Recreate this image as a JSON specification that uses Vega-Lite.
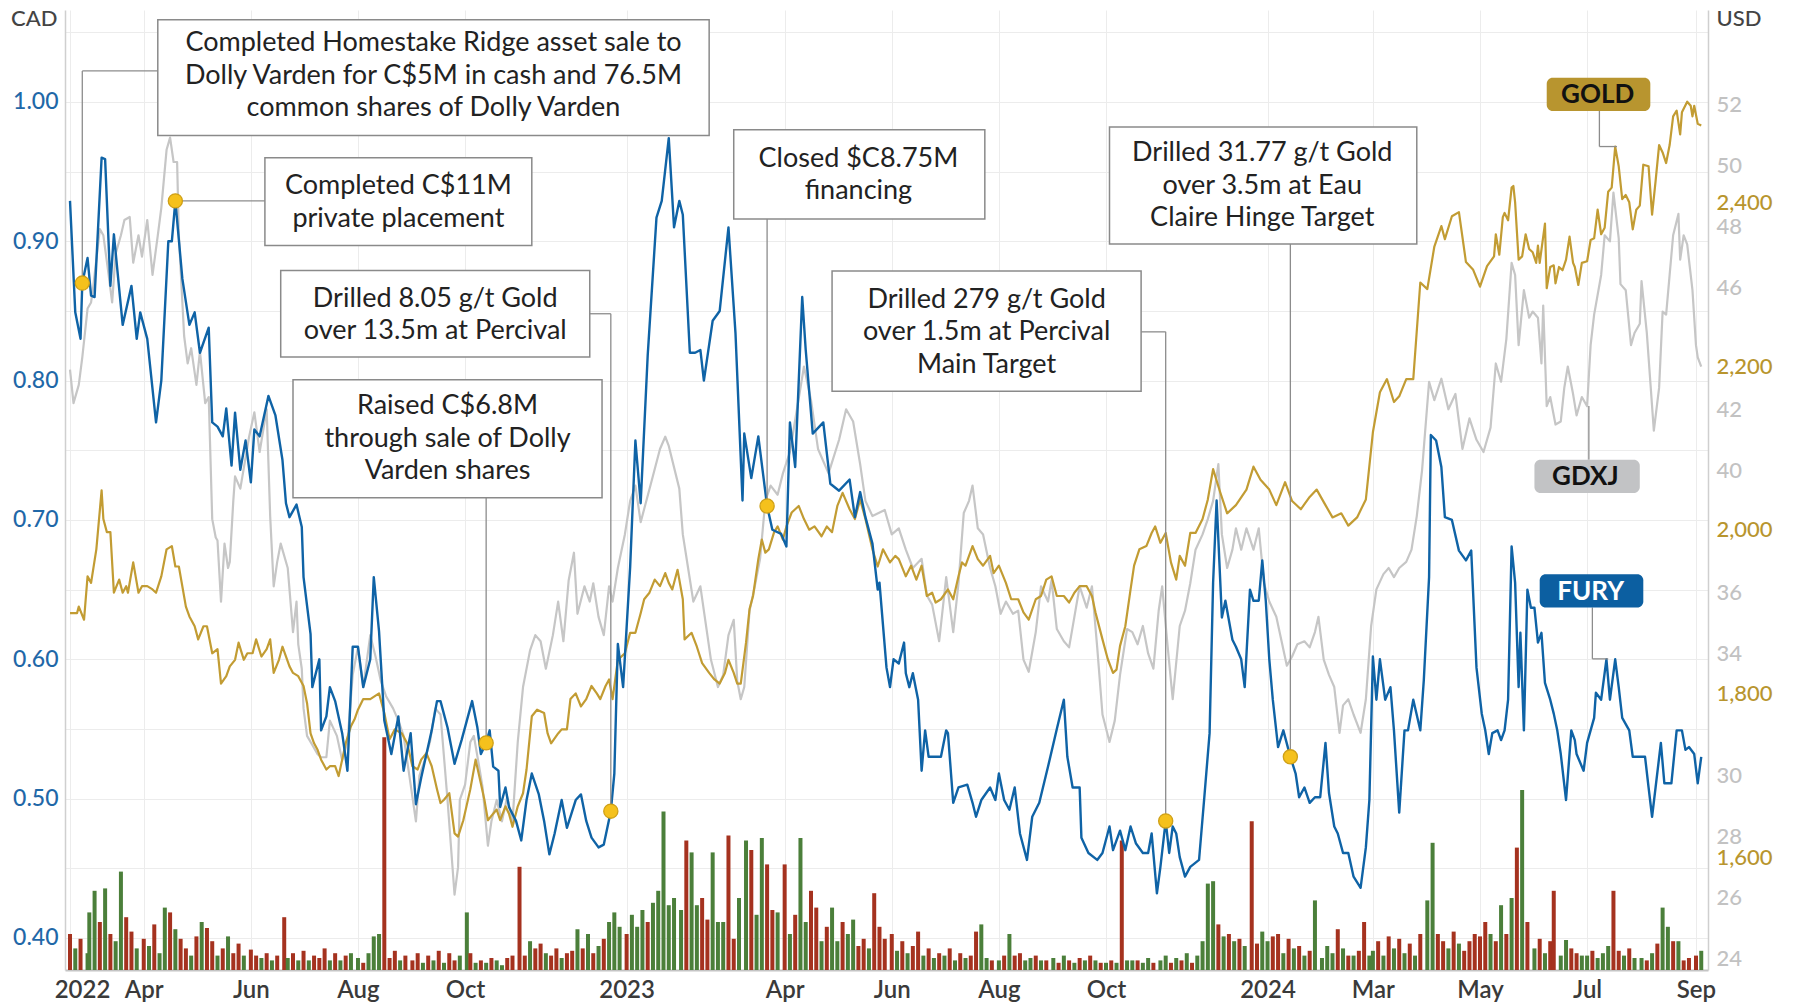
{
"$schema": "https://vega.github.io/schema/vega-lite/v6.json",
"width": 1643, "height": 960,
"autosize": {"type": "none"},
"padding": {"left": 65, "top": 10, "right": 85, "bottom": 34},
"background": "white",
"config": {"view": {"stroke": null}, "font": "Lato"},
"datasets": {
"fury": [
{"date":"2022-02-18","p":0.929},{"date":"2022-02-21","p":0.849},{"date":"2022-02-24","p":0.830},{"date":"2022-02-25","p":0.870},{"date":"2022-02-28","p":0.888},{"date":"2022-03-02","p":0.861},{"date":"2022-03-04","p":0.860},{"date":"2022-03-08","p":0.960},{"date":"2022-03-10","p":0.959},{"date":"2022-03-13","p":0.868},{"date":"2022-03-15","p":0.905},{"date":"2022-03-20","p":0.840},{"date":"2022-03-25","p":0.868},{"date":"2022-03-28","p":0.830},{"date":"2022-03-30","p":0.849},{"date":"2022-04-03","p":0.830},{"date":"2022-04-08","p":0.770},{"date":"2022-04-11","p":0.800},{"date":"2022-04-15","p":0.900},{"date":"2022-04-17","p":0.900},{"date":"2022-04-19","p":0.929},{"date":"2022-04-23","p":0.873},{"date":"2022-04-27","p":0.840},{"date":"2022-04-30","p":0.849},{"date":"2022-05-03","p":0.820},{"date":"2022-05-08","p":0.838},{"date":"2022-05-10","p":0.770},{"date":"2022-05-13","p":0.767},{"date":"2022-05-16","p":0.760},{"date":"2022-05-18","p":0.780},{"date":"2022-05-21","p":0.739},{"date":"2022-05-23","p":0.777},{"date":"2022-05-26","p":0.736},{"date":"2022-05-29","p":0.757},{"date":"2022-06-01","p":0.727},{"date":"2022-06-03","p":0.765},{"date":"2022-06-06","p":0.760},{"date":"2022-06-11","p":0.789},{"date":"2022-06-15","p":0.775},{"date":"2022-06-19","p":0.743},{"date":"2022-06-21","p":0.712},{"date":"2022-06-23","p":0.702},{"date":"2022-06-27","p":0.711},{"date":"2022-06-30","p":0.695},{"date":"2022-07-01","p":0.659},{"date":"2022-07-05","p":0.618},{"date":"2022-07-06","p":0.580},{"date":"2022-07-10","p":0.600},{"date":"2022-07-11","p":0.549},{"date":"2022-07-14","p":0.559},{"date":"2022-07-16","p":0.580},{"date":"2022-07-19","p":0.570},{"date":"2022-07-23","p":0.547},{"date":"2022-07-26","p":0.520},{"date":"2022-07-29","p":0.609},{"date":"2022-08-01","p":0.609},{"date":"2022-08-04","p":0.580},{"date":"2022-08-08","p":0.600},{"date":"2022-08-10","p":0.659},{"date":"2022-08-13","p":0.620},{"date":"2022-08-16","p":0.556},{"date":"2022-08-20","p":0.532},{"date":"2022-08-24","p":0.559},{"date":"2022-08-27","p":0.520},{"date":"2022-08-31","p":0.547},{"date":"2022-09-03","p":0.496},{"date":"2022-09-06","p":0.515},{"date":"2022-09-09","p":0.532},{"date":"2022-09-12","p":0.549},{"date":"2022-09-15","p":0.570},{"date":"2022-09-17","p":0.570},{"date":"2022-09-21","p":0.551},{"date":"2022-09-25","p":0.525},{"date":"2022-09-29","p":0.542},{"date":"2022-10-02","p":0.556},{"date":"2022-10-05","p":0.570},{"date":"2022-10-08","p":0.551},{"date":"2022-10-10","p":0.532},{"date":"2022-10-13","p":0.540},{"date":"2022-10-15","p":0.549},{"date":"2022-10-17","p":0.523},{"date":"2022-10-20","p":0.520},{"date":"2022-10-21","p":0.494},{"date":"2022-10-24","p":0.508},{"date":"2022-10-26","p":0.494},{"date":"2022-10-30","p":0.484},{"date":"2022-11-02","p":0.470},{"date":"2022-11-05","p":0.499},{"date":"2022-11-08","p":0.518},{"date":"2022-11-12","p":0.503},{"date":"2022-11-15","p":0.484},{"date":"2022-11-18","p":0.460},{"date":"2022-11-21","p":0.475},{"date":"2022-11-25","p":0.499},{"date":"2022-11-28","p":0.479},{"date":"2022-12-03","p":0.499},{"date":"2022-12-06","p":0.503},{"date":"2022-12-09","p":0.484},{"date":"2022-12-12","p":0.472},{"date":"2022-12-16","p":0.465},{"date":"2022-12-19","p":0.467},{"date":"2022-12-23","p":0.491},{"date":"2022-12-25","p":0.518},{"date":"2022-12-27","p":0.611},{"date":"2022-12-30","p":0.580},
{"date":"2023-01-03","p":0.666},{"date":"2023-01-06","p":0.757},{"date":"2023-01-09","p":0.712},{"date":"2023-01-13","p":0.818},{"date":"2023-01-18","p":0.917},{"date":"2023-01-21","p":0.929},{"date":"2023-01-25","p":0.974},{"date":"2023-01-28","p":0.910},{"date":"2023-01-31","p":0.929},{"date":"2023-02-02","p":0.919},{"date":"2023-02-06","p":0.820},{"date":"2023-02-09","p":0.820},{"date":"2023-02-12","p":0.822},{"date":"2023-02-14","p":0.800},{"date":"2023-02-19","p":0.843},{"date":"2023-02-23","p":0.850},{"date":"2023-02-28","p":0.910},{"date":"2023-03-04","p":0.834},{"date":"2023-03-08","p":0.714},{"date":"2023-03-09","p":0.762},{"date":"2023-03-13","p":0.730},{"date":"2023-03-17","p":0.760},{"date":"2023-03-22","p":0.710},{"date":"2023-03-25","p":0.693},{"date":"2023-03-30","p":0.690},{"date":"2023-04-02","p":0.681},{"date":"2023-04-04","p":0.770},{"date":"2023-04-07","p":0.738},{"date":"2023-04-11","p":0.860},{"date":"2023-04-13","p":0.822},{"date":"2023-04-17","p":0.762},{"date":"2023-04-23","p":0.770},{"date":"2023-04-27","p":0.726},{"date":"2023-05-02","p":0.721},{"date":"2023-05-08","p":0.729},{"date":"2023-05-11","p":0.702},{"date":"2023-05-14","p":0.720},{"date":"2023-05-17","p":0.702},{"date":"2023-05-21","p":0.683},{"date":"2023-05-24","p":0.650},{"date":"2023-05-25","p":0.655},{"date":"2023-05-29","p":0.594},{"date":"2023-05-31","p":0.580},{"date":"2023-06-02","p":0.600},{"date":"2023-06-05","p":0.597},{"date":"2023-06-08","p":0.612},{"date":"2023-06-09","p":0.590},{"date":"2023-06-11","p":0.580},{"date":"2023-06-13","p":0.590},{"date":"2023-06-16","p":0.571},{"date":"2023-06-18","p":0.520},{"date":"2023-06-20","p":0.549},{"date":"2023-06-22","p":0.530},{"date":"2023-06-29","p":0.530},{"date":"2023-07-02","p":0.549},{"date":"2023-07-03","p":0.547},{"date":"2023-07-06","p":0.497},{"date":"2023-07-09","p":0.508},{"date":"2023-07-14","p":0.510},{"date":"2023-07-17","p":0.497},{"date":"2023-07-19","p":0.487},{"date":"2023-07-22","p":0.499},{"date":"2023-07-27","p":0.508},{"date":"2023-07-30","p":0.499},{"date":"2023-08-01","p":0.518},{"date":"2023-08-04","p":0.499},{"date":"2023-08-07","p":0.492},{"date":"2023-08-10","p":0.508},{"date":"2023-08-13","p":0.475},{"date":"2023-08-17","p":0.456},{"date":"2023-08-20","p":0.487},{"date":"2023-08-24","p":0.497},{"date":"2023-08-29","p":0.523},{"date":"2023-09-03","p":0.550},{"date":"2023-09-07","p":0.571},{"date":"2023-09-09","p":0.530},{"date":"2023-09-12","p":0.508},{"date":"2023-09-16","p":0.508},{"date":"2023-09-17","p":0.472},{"date":"2023-09-21","p":0.461},{"date":"2023-09-26","p":0.456},{"date":"2023-09-29","p":0.461},{"date":"2023-10-03","p":0.480},{"date":"2023-10-05","p":0.463},{"date":"2023-10-09","p":0.477},{"date":"2023-10-12","p":0.463},{"date":"2023-10-15","p":0.480},{"date":"2023-10-18","p":0.468},{"date":"2023-10-22","p":0.461},{"date":"2023-10-25","p":0.461},{"date":"2023-10-27","p":0.475},{"date":"2023-10-30","p":0.432},{"date":"2023-11-01","p":0.451},{"date":"2023-11-04","p":0.484},{"date":"2023-11-06","p":0.461},{"date":"2023-11-08","p":0.480},{"date":"2023-11-10","p":0.475},{"date":"2023-11-12","p":0.458},{"date":"2023-11-15","p":0.444},{"date":"2023-11-18","p":0.451},{"date":"2023-11-23","p":0.456},{"date":"2023-11-26","p":0.501},{"date":"2023-11-29","p":0.547},{"date":"2023-12-01","p":0.655},{"date":"2023-12-03","p":0.714},{"date":"2023-12-04","p":0.686},{"date":"2023-12-06","p":0.630},{"date":"2023-12-08","p":0.642},{"date":"2023-12-12","p":0.614},{"date":"2023-12-14","p":0.609},{"date":"2023-12-17","p":0.600},{"date":"2023-12-19","p":0.580},{"date":"2023-12-22","p":0.650},{"date":"2023-12-24","p":0.642},{"date":"2023-12-27","p":0.642},{"date":"2023-12-29","p":0.671},{"date":"2023-12-31","p":0.642},
{"date":"2024-01-02","p":0.600},{"date":"2024-01-04","p":0.571},{"date":"2024-01-07","p":0.537},{"date":"2024-01-10","p":0.549},{"date":"2024-01-14","p":0.530},{"date":"2024-01-17","p":0.518},{"date":"2024-01-19","p":0.501},{"date":"2024-01-22","p":0.508},{"date":"2024-01-25","p":0.497},{"date":"2024-01-28","p":0.501},{"date":"2024-01-31","p":0.501},{"date":"2024-02-03","p":0.540},{"date":"2024-02-05","p":0.504},{"date":"2024-02-08","p":0.480},{"date":"2024-02-10","p":0.475},{"date":"2024-02-13","p":0.461},{"date":"2024-02-16","p":0.461},{"date":"2024-02-19","p":0.444},{"date":"2024-02-23","p":0.436},{"date":"2024-02-26","p":0.465},{"date":"2024-02-28","p":0.499},{"date":"2024-03-01","p":0.602},{"date":"2024-03-03","p":0.571},{"date":"2024-03-05","p":0.600},{"date":"2024-03-08","p":0.571},{"date":"2024-03-11","p":0.580},{"date":"2024-03-13","p":0.549},{"date":"2024-03-16","p":0.490},{"date":"2024-03-19","p":0.549},{"date":"2024-03-21","p":0.549},{"date":"2024-03-24","p":0.571},{"date":"2024-03-28","p":0.549},{"date":"2024-03-30","p":0.585},{"date":"2024-04-02","p":0.659},{"date":"2024-04-03","p":0.761},{"date":"2024-04-06","p":0.757},{"date":"2024-04-09","p":0.738},{"date":"2024-04-11","p":0.702},{"date":"2024-04-15","p":0.700},{"date":"2024-04-19","p":0.678},{"date":"2024-04-23","p":0.671},{"date":"2024-04-26","p":0.678},{"date":"2024-04-29","p":0.594},{"date":"2024-05-02","p":0.561},{"date":"2024-05-04","p":0.549},{"date":"2024-05-06","p":0.532},{"date":"2024-05-08","p":0.547},{"date":"2024-05-11","p":0.549},{"date":"2024-05-13","p":0.542},{"date":"2024-05-15","p":0.549},{"date":"2024-05-17","p":0.571},{"date":"2024-05-19","p":0.681},{"date":"2024-05-21","p":0.655},{"date":"2024-05-23","p":0.580},{"date":"2024-05-24","p":0.619},{"date":"2024-05-26","p":0.549},{"date":"2024-05-28","p":0.650},{"date":"2024-05-30","p":0.637},{"date":"2024-06-01","p":0.637},{"date":"2024-06-03","p":0.612},{"date":"2024-06-05","p":0.619},{"date":"2024-06-07","p":0.583},{"date":"2024-06-10","p":0.571},{"date":"2024-06-12","p":0.561},{"date":"2024-06-14","p":0.549},{"date":"2024-06-16","p":0.532},{"date":"2024-06-19","p":0.499},{"date":"2024-06-22","p":0.549},{"date":"2024-06-24","p":0.542},{"date":"2024-06-25","p":0.532},{"date":"2024-06-29","p":0.520},{"date":"2024-07-01","p":0.540},{"date":"2024-07-05","p":0.558},{"date":"2024-07-06","p":0.576},{"date":"2024-07-09","p":0.571},{"date":"2024-07-12","p":0.600},{"date":"2024-07-14","p":0.571},{"date":"2024-07-17","p":0.600},{"date":"2024-07-19","p":0.580},{"date":"2024-07-21","p":0.558},{"date":"2024-07-25","p":0.549},{"date":"2024-07-27","p":0.530},{"date":"2024-07-30","p":0.530},{"date":"2024-08-03","p":0.530},{"date":"2024-08-05","p":0.508},{"date":"2024-08-07","p":0.487},{"date":"2024-08-09","p":0.508},{"date":"2024-08-12","p":0.540},{"date":"2024-08-14","p":0.511},{"date":"2024-08-18","p":0.511},{"date":"2024-08-21","p":0.549},{"date":"2024-08-24","p":0.549},{"date":"2024-08-26","p":0.535},{"date":"2024-08-28","p":0.537},{"date":"2024-08-31","p":0.532},{"date":"2024-09-02","p":0.511},{"date":"2024-09-04","p":0.530}
],
"gdxj": [
{"date":"2022-02-18","p":43.3},{"date":"2022-02-20","p":42.2},{"date":"2022-02-23","p":42.8},{"date":"2022-02-25","p":43.7},{"date":"2022-02-28","p":45.3},{"date":"2022-03-02","p":45.5},{"date":"2022-03-03","p":45.9},{"date":"2022-03-07","p":47.9},{"date":"2022-03-09","p":47.7},{"date":"2022-03-12","p":46.4},{"date":"2022-03-14","p":45.5},{"date":"2022-03-16","p":47.1},{"date":"2022-03-19","p":47.7},{"date":"2022-03-21","p":48.2},{"date":"2022-03-24","p":48.3},{"date":"2022-03-26","p":46.8},{"date":"2022-03-29","p":47.7},{"date":"2022-03-31","p":47.0},{"date":"2022-04-03","p":48.2},{"date":"2022-04-06","p":46.4},{"date":"2022-04-09","p":47.7},{"date":"2022-04-11","p":48.6},{"date":"2022-04-14","p":50.5},{"date":"2022-04-16","p":50.9},{"date":"2022-04-18","p":50.1},{"date":"2022-04-20","p":50.1},{"date":"2022-04-21","p":47.7},{"date":"2022-04-24","p":44.4},{"date":"2022-04-26","p":43.5},{"date":"2022-04-28","p":44.0},{"date":"2022-05-01","p":42.8},{"date":"2022-05-03","p":43.9},{"date":"2022-05-06","p":42.2},{"date":"2022-05-08","p":42.4},{"date":"2022-05-10","p":38.4},{"date":"2022-05-12","p":37.8},{"date":"2022-05-13","p":37.7},{"date":"2022-05-15","p":35.7},{"date":"2022-05-17","p":37.6},{"date":"2022-05-19","p":36.8},{"date":"2022-05-20","p":37.0},{"date":"2022-05-22","p":39.0},{"date":"2022-05-23","p":39.8},{"date":"2022-05-26","p":39.4},{"date":"2022-05-31","p":41.1},{"date":"2022-06-03","p":41.9},{"date":"2022-06-06","p":40.6},{"date":"2022-06-10","p":42.0},{"date":"2022-06-12","p":38.5},{"date":"2022-06-14","p":36.2},{"date":"2022-06-16","p":37.0},{"date":"2022-06-18","p":37.6},{"date":"2022-06-22","p":36.8},{"date":"2022-06-25","p":34.7},{"date":"2022-06-27","p":35.7},{"date":"2022-06-28","p":34.3},{"date":"2022-06-30","p":33.5},{"date":"2022-07-01","p":32.2},{"date":"2022-07-03","p":31.3},{"date":"2022-07-06","p":31.0},{"date":"2022-07-09","p":30.7},{"date":"2022-07-11","p":30.6},{"date":"2022-07-14","p":30.6},{"date":"2022-07-16","p":31.8},{"date":"2022-07-20","p":31.3},{"date":"2022-07-23","p":30.5},{"date":"2022-07-26","p":31.1},{"date":"2022-07-29","p":33.3},{"date":"2022-08-01","p":34.2},{"date":"2022-08-04","p":32.9},{"date":"2022-08-08","p":34.6},{"date":"2022-08-11","p":33.9},{"date":"2022-08-14","p":33.1},{"date":"2022-08-17","p":32.6},{"date":"2022-08-21","p":32.2},{"date":"2022-08-24","p":31.8},{"date":"2022-08-27","p":31.3},{"date":"2022-08-31","p":29.7},{"date":"2022-09-03","p":28.5},{"date":"2022-09-05","p":30.0},{"date":"2022-09-08","p":30.5},{"date":"2022-09-11","p":31.1},{"date":"2022-09-14","p":32.2},{"date":"2022-09-17","p":32.0},{"date":"2022-09-21","p":29.2},{"date":"2022-09-25","p":26.1},{"date":"2022-09-27","p":27.0},{"date":"2022-09-28","p":29.2},{"date":"2022-10-01","p":29.7},{"date":"2022-10-04","p":31.1},{"date":"2022-10-06","p":31.3},{"date":"2022-10-09","p":30.3},{"date":"2022-10-11","p":29.6},{"date":"2022-10-14","p":27.7},{"date":"2022-10-16","p":28.5},{"date":"2022-10-19","p":29.2},{"date":"2022-10-22","p":28.5},{"date":"2022-10-25","p":29.3},{"date":"2022-10-28","p":28.5},{"date":"2022-10-31","p":31.1},{"date":"2022-11-03","p":32.9},{"date":"2022-11-07","p":34.1},{"date":"2022-11-10","p":34.6},{"date":"2022-11-13","p":34.4},{"date":"2022-11-16","p":33.5},{"date":"2022-11-20","p":34.6},{"date":"2022-11-23","p":35.7},{"date":"2022-11-26","p":34.4},{"date":"2022-11-29","p":36.4},{"date":"2022-12-02","p":37.3},{"date":"2022-12-04","p":35.3},{"date":"2022-12-08","p":36.2},{"date":"2022-12-11","p":35.7},{"date":"2022-12-13","p":36.3},{"date":"2022-12-16","p":35.2},{"date":"2022-12-19","p":34.6},{"date":"2022-12-22","p":36.2},{"date":"2022-12-24","p":35.7},{"date":"2022-12-27","p":36.8},{"date":"2022-12-31","p":37.9},
{"date":"2023-01-03","p":39.0},{"date":"2023-01-06","p":39.5},{"date":"2023-01-09","p":38.3},{"date":"2023-01-15","p":39.6},{"date":"2023-01-20","p":40.7},{"date":"2023-01-23","p":41.1},{"date":"2023-01-25","p":40.8},{"date":"2023-01-31","p":39.4},{"date":"2023-02-02","p":37.9},{"date":"2023-02-05","p":36.8},{"date":"2023-02-08","p":35.7},{"date":"2023-02-12","p":36.2},{"date":"2023-02-16","p":34.6},{"date":"2023-02-18","p":33.8},{"date":"2023-02-22","p":32.9},{"date":"2023-02-25","p":33.3},{"date":"2023-02-28","p":34.6},{"date":"2023-03-03","p":35.1},{"date":"2023-03-05","p":33.1},{"date":"2023-03-07","p":32.5},{"date":"2023-03-09","p":32.9},{"date":"2023-03-12","p":35.4},{"date":"2023-03-15","p":36.2},{"date":"2023-03-18","p":37.1},{"date":"2023-03-21","p":39.0},{"date":"2023-03-24","p":39.5},{"date":"2023-03-28","p":39.2},{"date":"2023-03-31","p":39.9},{"date":"2023-04-04","p":40.6},{"date":"2023-04-08","p":42.0},{"date":"2023-04-12","p":43.4},{"date":"2023-04-16","p":42.3},{"date":"2023-04-20","p":40.7},{"date":"2023-04-26","p":39.9},{"date":"2023-05-02","p":41.0},{"date":"2023-05-06","p":42.0},{"date":"2023-05-10","p":41.6},{"date":"2023-05-14","p":40.2},{"date":"2023-05-17","p":39.0},{"date":"2023-05-21","p":38.5},{"date":"2023-05-28","p":38.7},{"date":"2023-06-01","p":37.9},{"date":"2023-06-05","p":38.1},{"date":"2023-06-09","p":37.4},{"date":"2023-06-13","p":36.8},{"date":"2023-06-18","p":37.1},{"date":"2023-06-21","p":35.9},{"date":"2023-06-24","p":35.6},{"date":"2023-06-28","p":34.4},{"date":"2023-07-02","p":36.5},{"date":"2023-07-06","p":34.7},{"date":"2023-07-09","p":36.3},{"date":"2023-07-12","p":38.6},{"date":"2023-07-15","p":39.0},{"date":"2023-07-17","p":39.5},{"date":"2023-07-20","p":38.1},{"date":"2023-07-23","p":37.9},{"date":"2023-07-27","p":36.8},{"date":"2023-07-30","p":36.2},{"date":"2023-08-02","p":35.3},{"date":"2023-08-05","p":35.7},{"date":"2023-08-09","p":35.3},{"date":"2023-08-12","p":35.4},{"date":"2023-08-15","p":33.8},{"date":"2023-08-18","p":33.4},{"date":"2023-08-22","p":34.7},{"date":"2023-08-25","p":36.2},{"date":"2023-08-29","p":35.7},{"date":"2023-08-31","p":36.4},{"date":"2023-09-03","p":34.8},{"date":"2023-09-07","p":34.4},{"date":"2023-09-10","p":34.2},{"date":"2023-09-13","p":35.2},{"date":"2023-09-16","p":36.2},{"date":"2023-09-20","p":35.5},{"date":"2023-09-23","p":36.2},{"date":"2023-09-26","p":34.2},{"date":"2023-09-29","p":32.0},{"date":"2023-10-03","p":31.1},{"date":"2023-10-06","p":31.8},{"date":"2023-10-09","p":33.3},{"date":"2023-10-13","p":34.8},{"date":"2023-10-16","p":34.7},{"date":"2023-10-19","p":34.3},{"date":"2023-10-22","p":34.9},{"date":"2023-10-25","p":34.0},{"date":"2023-10-28","p":33.5},{"date":"2023-10-31","p":35.4},{"date":"2023-11-02","p":36.2},{"date":"2023-11-05","p":34.3},{"date":"2023-11-08","p":32.5},{"date":"2023-11-12","p":34.9},{"date":"2023-11-15","p":35.4},{"date":"2023-11-18","p":36.3},{"date":"2023-11-21","p":37.4},{"date":"2023-11-25","p":37.9},{"date":"2023-11-28","p":38.4},{"date":"2023-12-01","p":39.0},{"date":"2023-12-03","p":39.8},{"date":"2023-12-04","p":40.2},{"date":"2023-12-06","p":37.9},{"date":"2023-12-09","p":36.8},{"date":"2023-12-12","p":37.4},{"date":"2023-12-14","p":38.1},{"date":"2023-12-17","p":37.4},{"date":"2023-12-20","p":38.1},{"date":"2023-12-24","p":37.4},{"date":"2023-12-27","p":38.1},{"date":"2023-12-30","p":36.3},
{"date":"2024-01-02","p":35.7},{"date":"2024-01-06","p":35.2},{"date":"2024-01-09","p":34.4},{"date":"2024-01-12","p":33.6},{"date":"2024-01-15","p":33.9},{"date":"2024-01-18","p":34.3},{"date":"2024-01-22","p":34.4},{"date":"2024-01-25","p":34.2},{"date":"2024-01-28","p":34.7},{"date":"2024-01-30","p":35.2},{"date":"2024-02-02","p":33.8},{"date":"2024-02-05","p":33.3},{"date":"2024-02-08","p":32.9},{"date":"2024-02-11","p":31.4},{"date":"2024-02-13","p":32.3},{"date":"2024-02-16","p":32.5},{"date":"2024-02-19","p":32.0},{"date":"2024-02-23","p":31.4},{"date":"2024-02-26","p":32.5},{"date":"2024-02-29","p":34.9},{"date":"2024-03-03","p":36.1},{"date":"2024-03-07","p":36.6},{"date":"2024-03-10","p":36.8},{"date":"2024-03-13","p":36.5},{"date":"2024-03-16","p":36.8},{"date":"2024-03-20","p":37.0},{"date":"2024-03-23","p":37.4},{"date":"2024-03-26","p":38.5},{"date":"2024-03-29","p":40.0},{"date":"2024-04-02","p":42.9},{"date":"2024-04-05","p":42.3},{"date":"2024-04-09","p":43.0},{"date":"2024-04-13","p":42.0},{"date":"2024-04-17","p":42.5},{"date":"2024-04-21","p":40.7},{"date":"2024-04-25","p":41.7},{"date":"2024-04-29","p":41.0},{"date":"2024-05-03","p":40.6},{"date":"2024-05-07","p":41.4},{"date":"2024-05-10","p":43.5},{"date":"2024-05-13","p":42.9},{"date":"2024-05-16","p":44.3},{"date":"2024-05-19","p":46.8},{"date":"2024-05-21","p":46.4},{"date":"2024-05-23","p":44.1},{"date":"2024-05-26","p":45.9},{"date":"2024-05-29","p":45.0},{"date":"2024-05-31","p":45.2},{"date":"2024-06-03","p":45.0},{"date":"2024-06-05","p":43.5},{"date":"2024-06-06","p":45.4},{"date":"2024-06-08","p":42.1},{"date":"2024-06-10","p":42.4},{"date":"2024-06-13","p":41.5},{"date":"2024-06-16","p":41.6},{"date":"2024-06-18","p":42.7},{"date":"2024-06-20","p":43.4},{"date":"2024-06-23","p":42.5},{"date":"2024-06-25","p":41.8},{"date":"2024-06-28","p":42.4},{"date":"2024-07-01","p":42.1},{"date":"2024-07-03","p":44.1},{"date":"2024-07-05","p":45.1},{"date":"2024-07-09","p":46.4},{"date":"2024-07-11","p":47.7},{"date":"2024-07-14","p":47.5},{"date":"2024-07-16","p":49.1},{"date":"2024-07-19","p":47.6},{"date":"2024-07-20","p":46.1},{"date":"2024-07-23","p":45.9},{"date":"2024-07-26","p":44.1},{"date":"2024-07-28","p":44.5},{"date":"2024-07-31","p":44.8},{"date":"2024-08-01","p":46.2},{"date":"2024-08-04","p":44.5},{"date":"2024-08-06","p":42.9},{"date":"2024-08-08","p":41.3},{"date":"2024-08-11","p":42.7},{"date":"2024-08-13","p":45.2},{"date":"2024-08-15","p":45.1},{"date":"2024-08-17","p":46.4},{"date":"2024-08-19","p":47.7},{"date":"2024-08-22","p":48.4},{"date":"2024-08-23","p":46.9},{"date":"2024-08-25","p":47.7},{"date":"2024-08-27","p":47.4},{"date":"2024-08-29","p":46.4},{"date":"2024-08-30","p":45.9},{"date":"2024-09-01","p":44.1},{"date":"2024-09-02","p":43.7},{"date":"2024-09-04","p":43.4}
],
"gold": [
{"date":"2022-02-18","p":1898},{"date":"2022-02-22","p":1898},{"date":"2022-02-23","p":1906},{"date":"2022-02-26","p":1890},{"date":"2022-02-28","p":1943},{"date":"2022-03-02","p":1935},{"date":"2022-03-05","p":1976},{"date":"2022-03-08","p":2048},{"date":"2022-03-09","p":2013},{"date":"2022-03-11","p":1997},{"date":"2022-03-13","p":1997},{"date":"2022-03-15","p":1923},{"date":"2022-03-18","p":1939},{"date":"2022-03-20","p":1923},{"date":"2022-03-22","p":1931},{"date":"2022-03-23","p":1923},{"date":"2022-03-26","p":1960},{"date":"2022-03-29","p":1923},{"date":"2022-03-31","p":1931},{"date":"2022-04-03","p":1931},{"date":"2022-04-06","p":1927},{"date":"2022-04-08","p":1923},{"date":"2022-04-11","p":1943},{"date":"2022-04-14","p":1976},{"date":"2022-04-17","p":1980},{"date":"2022-04-19","p":1955},{"date":"2022-04-21","p":1955},{"date":"2022-04-25","p":1906},{"date":"2022-04-27","p":1894},{"date":"2022-04-30","p":1882},{"date":"2022-05-02","p":1866},{"date":"2022-05-05","p":1882},{"date":"2022-05-07","p":1882},{"date":"2022-05-10","p":1849},{"date":"2022-05-13","p":1854},{"date":"2022-05-15","p":1812},{"date":"2022-05-18","p":1821},{"date":"2022-05-20","p":1833},{"date":"2022-05-23","p":1841},{"date":"2022-05-25","p":1862},{"date":"2022-05-28","p":1841},{"date":"2022-05-30","p":1849},{"date":"2022-06-02","p":1849},{"date":"2022-06-04","p":1866},{"date":"2022-06-07","p":1845},{"date":"2022-06-10","p":1854},{"date":"2022-06-12","p":1866},{"date":"2022-06-14","p":1825},{"date":"2022-06-17","p":1841},{"date":"2022-06-19","p":1857},{"date":"2022-06-23","p":1833},{"date":"2022-06-25","p":1825},{"date":"2022-06-28","p":1821},{"date":"2022-07-01","p":1809},{"date":"2022-07-03","p":1788},{"date":"2022-07-05","p":1751},{"date":"2022-07-07","p":1739},{"date":"2022-07-09","p":1731},{"date":"2022-07-11","p":1719},{"date":"2022-07-14","p":1707},{"date":"2022-07-16","p":1711},{"date":"2022-07-19","p":1711},{"date":"2022-07-21","p":1699},{"date":"2022-07-23","p":1719},{"date":"2022-07-25","p":1739},{"date":"2022-07-28","p":1760},{"date":"2022-07-30","p":1768},{"date":"2022-08-01","p":1780},{"date":"2022-08-04","p":1793},{"date":"2022-08-08","p":1793},{"date":"2022-08-13","p":1800},{"date":"2022-08-16","p":1776},{"date":"2022-08-19","p":1744},{"date":"2022-08-22","p":1756},{"date":"2022-08-26","p":1751},{"date":"2022-08-29","p":1739},{"date":"2022-09-01","p":1711},{"date":"2022-09-04","p":1707},{"date":"2022-09-06","p":1719},{"date":"2022-09-09","p":1727},{"date":"2022-09-12","p":1711},{"date":"2022-09-15","p":1683},{"date":"2022-09-17","p":1666},{"date":"2022-09-19","p":1670},{"date":"2022-09-22","p":1678},{"date":"2022-09-25","p":1629},{"date":"2022-09-27","p":1625},{"date":"2022-09-30","p":1645},{"date":"2022-10-04","p":1683},{"date":"2022-10-07","p":1719},{"date":"2022-10-10","p":1690},{"date":"2022-10-12","p":1670},{"date":"2022-10-14","p":1645},{"date":"2022-10-17","p":1653},{"date":"2022-10-19","p":1658},{"date":"2022-10-21","p":1645},{"date":"2022-10-24","p":1662},{"date":"2022-10-26","p":1653},{"date":"2022-10-28","p":1637},{"date":"2022-10-31","p":1662},{"date":"2022-11-03","p":1678},{"date":"2022-11-05","p":1707},{"date":"2022-11-08","p":1772},{"date":"2022-11-11","p":1780},{"date":"2022-11-15","p":1776},{"date":"2022-11-17","p":1751},{"date":"2022-11-19","p":1739},{"date":"2022-11-23","p":1751},{"date":"2022-11-25","p":1756},{"date":"2022-11-28","p":1756},{"date":"2022-11-30","p":1793},{"date":"2022-12-03","p":1800},{"date":"2022-12-06","p":1784},{"date":"2022-12-09","p":1793},{"date":"2022-12-12","p":1809},{"date":"2022-12-15","p":1800},{"date":"2022-12-17","p":1793},{"date":"2022-12-20","p":1809},{"date":"2022-12-22","p":1817},{"date":"2022-12-24","p":1793},{"date":"2022-12-27","p":1841},{"date":"2022-12-31","p":1849},
{"date":"2023-01-03","p":1874},{"date":"2023-01-06","p":1874},{"date":"2023-01-09","p":1898},{"date":"2023-01-11","p":1915},{"date":"2023-01-14","p":1923},{"date":"2023-01-17","p":1939},{"date":"2023-01-20","p":1931},{"date":"2023-01-23","p":1947},{"date":"2023-01-25","p":1935},{"date":"2023-01-27","p":1927},{"date":"2023-01-30","p":1951},{"date":"2023-02-02","p":1915},{"date":"2023-02-03","p":1866},{"date":"2023-02-07","p":1874},{"date":"2023-02-10","p":1857},{"date":"2023-02-13","p":1837},{"date":"2023-02-17","p":1825},{"date":"2023-02-20","p":1817},{"date":"2023-02-23","p":1812},{"date":"2023-02-26","p":1825},{"date":"2023-02-28","p":1841},{"date":"2023-03-03","p":1825},{"date":"2023-03-05","p":1812},{"date":"2023-03-07","p":1812},{"date":"2023-03-10","p":1862},{"date":"2023-03-12","p":1903},{"date":"2023-03-14","p":1919},{"date":"2023-03-17","p":1964},{"date":"2023-03-19","p":1988},{"date":"2023-03-21","p":1972},{"date":"2023-03-23","p":1976},{"date":"2023-03-26","p":1997},{"date":"2023-03-28","p":2004},{"date":"2023-03-31","p":1988},{"date":"2023-04-02","p":2004},{"date":"2023-04-05","p":2021},{"date":"2023-04-07","p":2025},{"date":"2023-04-09","p":2029},{"date":"2023-04-12","p":2013},{"date":"2023-04-15","p":2000},{"date":"2023-04-18","p":2004},{"date":"2023-04-22","p":1992},{"date":"2023-04-25","p":2004},{"date":"2023-04-28","p":1997},{"date":"2023-05-01","p":2029},{"date":"2023-05-04","p":2045},{"date":"2023-05-08","p":2025},{"date":"2023-05-11","p":2013},{"date":"2023-05-14","p":2037},{"date":"2023-05-17","p":2013},{"date":"2023-05-21","p":1976},{"date":"2023-05-24","p":1955},{"date":"2023-05-27","p":1976},{"date":"2023-05-31","p":1960},{"date":"2023-06-03","p":1968},{"date":"2023-06-05","p":1964},{"date":"2023-06-09","p":1943},{"date":"2023-06-12","p":1956},{"date":"2023-06-15","p":1939},{"date":"2023-06-18","p":1956},{"date":"2023-06-21","p":1919},{"date":"2023-06-24","p":1923},{"date":"2023-06-26","p":1911},{"date":"2023-06-29","p":1915},{"date":"2023-07-03","p":1927},{"date":"2023-07-06","p":1915},{"date":"2023-07-09","p":1943},{"date":"2023-07-11","p":1960},{"date":"2023-07-13","p":1956},{"date":"2023-07-17","p":1980},{"date":"2023-07-20","p":1964},{"date":"2023-07-23","p":1956},{"date":"2023-07-27","p":1968},{"date":"2023-07-29","p":1947},{"date":"2023-08-01","p":1956},{"date":"2023-08-05","p":1935},{"date":"2023-08-08","p":1915},{"date":"2023-08-12","p":1915},{"date":"2023-08-15","p":1899},{"date":"2023-08-18","p":1890},{"date":"2023-08-22","p":1915},{"date":"2023-08-25","p":1919},{"date":"2023-08-28","p":1939},{"date":"2023-08-31","p":1943},{"date":"2023-09-03","p":1919},{"date":"2023-09-07","p":1919},{"date":"2023-09-10","p":1911},{"date":"2023-09-13","p":1923},{"date":"2023-09-16","p":1931},{"date":"2023-09-20","p":1931},{"date":"2023-09-23","p":1919},{"date":"2023-09-25","p":1899},{"date":"2023-09-29","p":1866},{"date":"2023-10-02","p":1842},{"date":"2023-10-05","p":1825},{"date":"2023-10-07","p":1829},{"date":"2023-10-09","p":1858},{"date":"2023-10-12","p":1882},{"date":"2023-10-15","p":1927},{"date":"2023-10-17","p":1956},{"date":"2023-10-20","p":1976},{"date":"2023-10-24","p":1980},{"date":"2023-10-27","p":1996},{"date":"2023-10-29","p":2004},{"date":"2023-11-01","p":1984},{"date":"2023-11-04","p":1996},{"date":"2023-11-07","p":1960},{"date":"2023-11-10","p":1939},{"date":"2023-11-12","p":1968},{"date":"2023-11-15","p":1956},{"date":"2023-11-18","p":1996},{"date":"2023-11-21","p":1996},{"date":"2023-11-25","p":2013},{"date":"2023-11-28","p":2037},{"date":"2023-12-01","p":2074},{"date":"2023-12-05","p":2046},{"date":"2023-12-09","p":2020},{"date":"2023-12-14","p":2030},{"date":"2023-12-20","p":2049},{"date":"2023-12-24","p":2077},{"date":"2023-12-28","p":2061},
{"date":"2024-01-02","p":2049},{"date":"2024-01-06","p":2030},{"date":"2024-01-11","p":2058},{"date":"2024-01-15","p":2035},{"date":"2024-01-20","p":2025},{"date":"2024-01-25","p":2040},{"date":"2024-01-29","p":2049},{"date":"2024-02-03","p":2030},{"date":"2024-02-07","p":2015},{"date":"2024-02-12","p":2020},{"date":"2024-02-16","p":2005},{"date":"2024-02-21","p":2015},{"date":"2024-02-26","p":2037},{"date":"2024-03-01","p":2119},{"date":"2024-03-05","p":2168},{"date":"2024-03-09","p":2184},{"date":"2024-03-13","p":2156},{"date":"2024-03-16","p":2163},{"date":"2024-03-20","p":2184},{"date":"2024-03-24","p":2184},{"date":"2024-03-28","p":2302},{"date":"2024-04-01","p":2294},{"date":"2024-04-05","p":2346},{"date":"2024-04-09","p":2371},{"date":"2024-04-11","p":2355},{"date":"2024-04-15","p":2383},{"date":"2024-04-19","p":2388},{"date":"2024-04-23","p":2327},{"date":"2024-04-27","p":2318},{"date":"2024-05-01","p":2297},{"date":"2024-05-05","p":2322},{"date":"2024-05-09","p":2334},{"date":"2024-05-10","p":2361},{"date":"2024-05-12","p":2336},{"date":"2024-05-14","p":2382},{"date":"2024-05-15","p":2387},{"date":"2024-05-17","p":2378},{"date":"2024-05-19","p":2418},{"date":"2024-05-20","p":2420},{"date":"2024-05-21","p":2400},{"date":"2024-05-23","p":2330},{"date":"2024-05-25","p":2334},{"date":"2024-05-27","p":2361},{"date":"2024-05-29","p":2343},{"date":"2024-05-31","p":2339},{"date":"2024-06-02","p":2326},{"date":"2024-06-03","p":2347},{"date":"2024-06-04","p":2326},{"date":"2024-06-07","p":2374},{"date":"2024-06-08","p":2295},{"date":"2024-06-10","p":2321},{"date":"2024-06-12","p":2323},{"date":"2024-06-13","p":2301},{"date":"2024-06-15","p":2321},{"date":"2024-06-17","p":2317},{"date":"2024-06-19","p":2330},{"date":"2024-06-21","p":2358},{"date":"2024-06-23","p":2326},{"date":"2024-06-24","p":2321},{"date":"2024-06-26","p":2299},{"date":"2024-06-28","p":2326},{"date":"2024-07-01","p":2328},{"date":"2024-07-03","p":2354},{"date":"2024-07-05","p":2356},{"date":"2024-07-07","p":2391},{"date":"2024-07-09","p":2361},{"date":"2024-07-11","p":2369},{"date":"2024-07-13","p":2413},{"date":"2024-07-15","p":2418},{"date":"2024-07-17","p":2468},{"date":"2024-07-19","p":2444},{"date":"2024-07-21","p":2404},{"date":"2024-07-23","p":2409},{"date":"2024-07-25","p":2400},{"date":"2024-07-27","p":2367},{"date":"2024-07-29","p":2391},{"date":"2024-07-31","p":2396},{"date":"2024-08-02","p":2446},{"date":"2024-08-05","p":2444},{"date":"2024-08-07","p":2385},{"date":"2024-08-09","p":2426},{"date":"2024-08-11","p":2470},{"date":"2024-08-13","p":2461},{"date":"2024-08-15","p":2448},{"date":"2024-08-17","p":2470},{"date":"2024-08-19","p":2505},{"date":"2024-08-21","p":2512},{"date":"2024-08-23","p":2483},{"date":"2024-08-24","p":2510},{"date":"2024-08-27","p":2523},{"date":"2024-08-29","p":2518},{"date":"2024-08-30","p":2505},{"date":"2024-08-31","p":2518},{"date":"2024-09-02","p":2496},{"date":"2024-09-04","p":2494}
],
"vol": [
{"date":"2022-02-18","v":150,"dir":"down"},{"date":"2022-02-21","v":90,"dir":"up"},{"date":"2022-02-24","v":130,"dir":"down"},{"date":"2022-02-28","v":70,"dir":"up"},{"date":"2022-03-01","v":240,"dir":"up"},{"date":"2022-03-04","v":330,"dir":"up"},{"date":"2022-03-07","v":200,"dir":"down"},{"date":"2022-03-10","v":340,"dir":"up"},{"date":"2022-03-13","v":150,"dir":"down"},{"date":"2022-03-16","v":120,"dir":"up"},{"date":"2022-03-19","v":410,"dir":"up"},{"date":"2022-03-22","v":220,"dir":"down"},{"date":"2022-03-25","v":160,"dir":"down"},{"date":"2022-03-28","v":90,"dir":"up"},
{"date":"2022-04-01","v":130,"dir":"down"},{"date":"2022-04-04","v":100,"dir":"up"},{"date":"2022-04-07","v":190,"dir":"down"},{"date":"2022-04-10","v":70,"dir":"up"},{"date":"2022-04-13","v":260,"dir":"up"},{"date":"2022-04-16","v":240,"dir":"down"},{"date":"2022-04-19","v":170,"dir":"up"},{"date":"2022-04-22","v":130,"dir":"down"},{"date":"2022-04-25","v":90,"dir":"down"},{"date":"2022-04-28","v":60,"dir":"up"},
{"date":"2022-05-01","v":140,"dir":"down"},{"date":"2022-05-04","v":200,"dir":"up"},{"date":"2022-05-07","v":175,"dir":"down"},{"date":"2022-05-10","v":120,"dir":"down"},{"date":"2022-05-13","v":60,"dir":"up"},{"date":"2022-05-16","v":90,"dir":"down"},{"date":"2022-05-19","v":140,"dir":"up"},{"date":"2022-05-22","v":70,"dir":"down"},{"date":"2022-05-25","v":110,"dir":"down"},{"date":"2022-05-28","v":60,"dir":"up"},
{"date":"2022-06-01","v":85,"dir":"down"},{"date":"2022-06-04","v":60,"dir":"down"},{"date":"2022-06-07","v":50,"dir":"up"},{"date":"2022-06-10","v":70,"dir":"down"},{"date":"2022-06-13","v":40,"dir":"up"},{"date":"2022-06-16","v":60,"dir":"down"},{"date":"2022-06-20","v":220,"dir":"down"},{"date":"2022-06-22","v":50,"dir":"up"},{"date":"2022-06-25","v":70,"dir":"down"},{"date":"2022-06-28","v":40,"dir":"up"},
{"date":"2022-07-01","v":80,"dir":"down"},{"date":"2022-07-04","v":40,"dir":"up"},{"date":"2022-07-07","v":60,"dir":"down"},{"date":"2022-07-10","v":50,"dir":"down"},{"date":"2022-07-13","v":90,"dir":"down"},{"date":"2022-07-16","v":40,"dir":"up"},{"date":"2022-07-19","v":70,"dir":"down"},{"date":"2022-07-22","v":40,"dir":"up"},{"date":"2022-07-25","v":60,"dir":"down"},{"date":"2022-07-28","v":70,"dir":"up"},
{"date":"2022-08-01","v":50,"dir":"up"},{"date":"2022-08-04","v":30,"dir":"down"},{"date":"2022-08-07","v":70,"dir":"up"},{"date":"2022-08-10","v":140,"dir":"up"},{"date":"2022-08-13","v":150,"dir":"up"},{"date":"2022-08-16","v":970,"dir":"down"},{"date":"2022-08-19","v":50,"dir":"down"},{"date":"2022-08-22","v":80,"dir":"down"},{"date":"2022-08-25","v":40,"dir":"up"},{"date":"2022-08-28","v":60,"dir":"down"},
{"date":"2022-09-01","v":40,"dir":"down"},{"date":"2022-09-04","v":70,"dir":"down"},{"date":"2022-09-07","v":30,"dir":"up"},{"date":"2022-09-10","v":60,"dir":"down"},{"date":"2022-09-13","v":40,"dir":"up"},{"date":"2022-09-16","v":80,"dir":"down"},{"date":"2022-09-19","v":30,"dir":"up"},{"date":"2022-09-22","v":70,"dir":"down"},{"date":"2022-09-25","v":40,"dir":"down"},{"date":"2022-09-28","v":60,"dir":"up"},
{"date":"2022-10-02","v":240,"dir":"up"},{"date":"2022-10-04","v":70,"dir":"down"},{"date":"2022-10-07","v":30,"dir":"up"},{"date":"2022-10-10","v":40,"dir":"down"},{"date":"2022-10-13","v":30,"dir":"up"},{"date":"2022-10-16","v":50,"dir":"down"},{"date":"2022-10-19","v":40,"dir":"up"},{"date":"2022-10-22","v":20,"dir":"up"},{"date":"2022-10-25","v":50,"dir":"down"},{"date":"2022-10-28","v":60,"dir":"down"},
{"date":"2022-11-01","v":430,"dir":"down"},{"date":"2022-11-04","v":60,"dir":"down"},{"date":"2022-11-07","v":120,"dir":"up"},{"date":"2022-11-10","v":90,"dir":"down"},{"date":"2022-11-13","v":110,"dir":"down"},{"date":"2022-11-16","v":70,"dir":"up"},{"date":"2022-11-19","v":60,"dir":"down"},{"date":"2022-11-22","v":90,"dir":"down"},{"date":"2022-11-25","v":50,"dir":"up"},{"date":"2022-11-28","v":70,"dir":"down"},
{"date":"2022-12-01","v":80,"dir":"down"},{"date":"2022-12-04","v":170,"dir":"up"},{"date":"2022-12-07","v":90,"dir":"down"},{"date":"2022-12-10","v":150,"dir":"up"},{"date":"2022-12-13","v":70,"dir":"down"},{"date":"2022-12-16","v":100,"dir":"up"},{"date":"2022-12-19","v":130,"dir":"down"},{"date":"2022-12-22","v":200,"dir":"up"},{"date":"2022-12-25","v":240,"dir":"up"},{"date":"2022-12-28","v":180,"dir":"up"},
{"date":"2023-01-01","v":150,"dir":"down"},{"date":"2023-01-04","v":230,"dir":"up"},{"date":"2023-01-07","v":180,"dir":"up"},{"date":"2023-01-10","v":250,"dir":"up"},{"date":"2023-01-13","v":200,"dir":"down"},{"date":"2023-01-16","v":280,"dir":"up"},{"date":"2023-01-19","v":330,"dir":"up"},{"date":"2023-01-22","v":660,"dir":"up"},{"date":"2023-01-25","v":270,"dir":"up"},{"date":"2023-01-28","v":300,"dir":"up"},
{"date":"2023-02-01","v":250,"dir":"up"},{"date":"2023-02-04","v":540,"dir":"down"},{"date":"2023-02-07","v":490,"dir":"up"},{"date":"2023-02-10","v":270,"dir":"up"},{"date":"2023-02-13","v":300,"dir":"down"},{"date":"2023-02-16","v":210,"dir":"down"},{"date":"2023-02-19","v":490,"dir":"up"},{"date":"2023-02-22","v":200,"dir":"up"},{"date":"2023-02-25","v":200,"dir":"up"},{"date":"2023-02-28","v":560,"dir":"down"},
{"date":"2023-03-03","v":130,"dir":"down"},{"date":"2023-03-06","v":300,"dir":"up"},{"date":"2023-03-10","v":540,"dir":"up"},{"date":"2023-03-13","v":500,"dir":"down"},{"date":"2023-03-16","v":230,"dir":"up"},{"date":"2023-03-19","v":550,"dir":"up"},{"date":"2023-03-22","v":440,"dir":"down"},{"date":"2023-03-25","v":250,"dir":"down"},{"date":"2023-03-28","v":240,"dir":"up"},
{"date":"2023-04-01","v":440,"dir":"down"},{"date":"2023-04-04","v":150,"dir":"up"},{"date":"2023-04-07","v":230,"dir":"down"},{"date":"2023-04-10","v":550,"dir":"up"},{"date":"2023-04-13","v":200,"dir":"up"},{"date":"2023-04-16","v":330,"dir":"down"},{"date":"2023-04-19","v":260,"dir":"down"},{"date":"2023-04-22","v":120,"dir":"up"},{"date":"2023-04-25","v":180,"dir":"down"},{"date":"2023-04-28","v":260,"dir":"up"},
{"date":"2023-05-01","v":120,"dir":"up"},{"date":"2023-05-04","v":200,"dir":"down"},{"date":"2023-05-07","v":150,"dir":"up"},{"date":"2023-05-10","v":210,"dir":"up"},{"date":"2023-05-13","v":100,"dir":"down"},{"date":"2023-05-16","v":130,"dir":"down"},{"date":"2023-05-19","v":90,"dir":"up"},{"date":"2023-05-22","v":320,"dir":"down"},{"date":"2023-05-25","v":180,"dir":"down"},{"date":"2023-05-28","v":130,"dir":"down"},
{"date":"2023-06-01","v":150,"dir":"down"},{"date":"2023-06-04","v":80,"dir":"up"},{"date":"2023-06-07","v":120,"dir":"down"},{"date":"2023-06-10","v":70,"dir":"up"},{"date":"2023-06-13","v":100,"dir":"down"},{"date":"2023-06-16","v":160,"dir":"down"},{"date":"2023-06-19","v":60,"dir":"up"},{"date":"2023-06-22","v":90,"dir":"down"},{"date":"2023-06-25","v":50,"dir":"up"},{"date":"2023-06-28","v":70,"dir":"down"},
{"date":"2023-07-01","v":60,"dir":"up"},{"date":"2023-07-04","v":90,"dir":"down"},{"date":"2023-07-07","v":40,"dir":"up"},{"date":"2023-07-10","v":70,"dir":"down"},{"date":"2023-07-13","v":50,"dir":"up"},{"date":"2023-07-16","v":60,"dir":"down"},{"date":"2023-07-19","v":160,"dir":"down"},{"date":"2023-07-22","v":190,"dir":"up"},{"date":"2023-07-25","v":50,"dir":"up"},{"date":"2023-07-28","v":40,"dir":"down"},
{"date":"2023-08-01","v":40,"dir":"up"},{"date":"2023-08-04","v":60,"dir":"down"},{"date":"2023-08-07","v":150,"dir":"up"},{"date":"2023-08-10","v":60,"dir":"down"},{"date":"2023-08-13","v":70,"dir":"down"},{"date":"2023-08-16","v":40,"dir":"up"},{"date":"2023-08-19","v":50,"dir":"up"},{"date":"2023-08-22","v":60,"dir":"down"},{"date":"2023-08-25","v":40,"dir":"up"},{"date":"2023-08-28","v":40,"dir":"down"},
{"date":"2023-09-01","v":50,"dir":"up"},{"date":"2023-09-04","v":30,"dir":"down"},{"date":"2023-09-07","v":60,"dir":"up"},{"date":"2023-09-10","v":40,"dir":"down"},{"date":"2023-09-13","v":30,"dir":"up"},{"date":"2023-09-16","v":50,"dir":"down"},{"date":"2023-09-19","v":40,"dir":"up"},{"date":"2023-09-22","v":60,"dir":"down"},{"date":"2023-09-25","v":40,"dir":"up"},{"date":"2023-09-28","v":30,"dir":"down"},
{"date":"2023-10-01","v":30,"dir":"up"},{"date":"2023-10-04","v":40,"dir":"down"},{"date":"2023-10-07","v":30,"dir":"up"},{"date":"2023-10-10","v":540,"dir":"down"},{"date":"2023-10-13","v":40,"dir":"up"},{"date":"2023-10-16","v":40,"dir":"up"},{"date":"2023-10-19","v":40,"dir":"down"},{"date":"2023-10-22","v":30,"dir":"up"},{"date":"2023-10-25","v":50,"dir":"up"},{"date":"2023-10-28","v":30,"dir":"down"},
{"date":"2023-11-01","v":40,"dir":"up"},{"date":"2023-11-04","v":60,"dir":"up"},{"date":"2023-11-07","v":30,"dir":"down"},{"date":"2023-11-10","v":50,"dir":"up"},{"date":"2023-11-13","v":40,"dir":"down"},{"date":"2023-11-16","v":70,"dir":"up"},{"date":"2023-11-19","v":30,"dir":"down"},{"date":"2023-11-22","v":60,"dir":"up"},{"date":"2023-11-25","v":120,"dir":"up"},{"date":"2023-11-28","v":360,"dir":"up"},
{"date":"2023-12-01","v":370,"dir":"up"},{"date":"2023-12-04","v":190,"dir":"down"},{"date":"2023-12-07","v":140,"dir":"up"},{"date":"2023-12-10","v":150,"dir":"down"},{"date":"2023-12-13","v":120,"dir":"up"},{"date":"2023-12-16","v":130,"dir":"down"},{"date":"2023-12-19","v":100,"dir":"up"},{"date":"2023-12-23","v":620,"dir":"down"},{"date":"2023-12-26","v":110,"dir":"down"},{"date":"2023-12-29","v":160,"dir":"up"},
{"date":"2024-01-01","v":120,"dir":"up"},{"date":"2024-01-04","v":140,"dir":"down"},{"date":"2024-01-07","v":150,"dir":"down"},{"date":"2024-01-10","v":70,"dir":"up"},{"date":"2024-01-13","v":130,"dir":"down"},{"date":"2024-01-16","v":90,"dir":"up"},{"date":"2024-01-19","v":100,"dir":"down"},{"date":"2024-01-22","v":60,"dir":"up"},{"date":"2024-01-25","v":80,"dir":"down"},{"date":"2024-01-28","v":290,"dir":"up"},
{"date":"2024-02-01","v":50,"dir":"up"},{"date":"2024-02-04","v":100,"dir":"up"},{"date":"2024-02-07","v":70,"dir":"up"},{"date":"2024-02-10","v":170,"dir":"down"},{"date":"2024-02-13","v":90,"dir":"up"},{"date":"2024-02-16","v":60,"dir":"down"},{"date":"2024-02-19","v":60,"dir":"up"},{"date":"2024-02-22","v":80,"dir":"down"},{"date":"2024-02-25","v":200,"dir":"down"},{"date":"2024-02-28","v":60,"dir":"up"},
{"date":"2024-03-01","v":80,"dir":"up"},{"date":"2024-03-04","v":120,"dir":"down"},{"date":"2024-03-07","v":60,"dir":"up"},{"date":"2024-03-10","v":140,"dir":"down"},{"date":"2024-03-13","v":90,"dir":"up"},{"date":"2024-03-16","v":130,"dir":"down"},{"date":"2024-03-19","v":70,"dir":"up"},{"date":"2024-03-22","v":110,"dir":"down"},{"date":"2024-03-25","v":60,"dir":"up"},{"date":"2024-03-28","v":150,"dir":"down"},
{"date":"2024-04-01","v":290,"dir":"up"},{"date":"2024-04-04","v":530,"dir":"up"},{"date":"2024-04-07","v":150,"dir":"down"},{"date":"2024-04-10","v":120,"dir":"down"},{"date":"2024-04-13","v":90,"dir":"up"},{"date":"2024-04-16","v":160,"dir":"down"},{"date":"2024-04-19","v":110,"dir":"up"},{"date":"2024-04-22","v":80,"dir":"down"},{"date":"2024-04-25","v":120,"dir":"down"},{"date":"2024-04-28","v":150,"dir":"down"},
{"date":"2024-05-01","v":140,"dir":"down"},{"date":"2024-05-04","v":200,"dir":"down"},{"date":"2024-05-07","v":150,"dir":"up"},{"date":"2024-05-10","v":120,"dir":"down"},{"date":"2024-05-13","v":270,"dir":"up"},{"date":"2024-05-16","v":150,"dir":"down"},{"date":"2024-05-19","v":300,"dir":"up"},{"date":"2024-05-22","v":510,"dir":"down"},{"date":"2024-05-25","v":750,"dir":"up"},{"date":"2024-05-28","v":200,"dir":"down"},
{"date":"2024-06-01","v":90,"dir":"up"},{"date":"2024-06-04","v":130,"dir":"down"},{"date":"2024-06-07","v":70,"dir":"up"},{"date":"2024-06-10","v":120,"dir":"down"},{"date":"2024-06-12","v":330,"dir":"down"},{"date":"2024-06-16","v":60,"dir":"up"},{"date":"2024-06-19","v":125,"dir":"up"},{"date":"2024-06-22","v":90,"dir":"down"},{"date":"2024-06-25","v":70,"dir":"down"},{"date":"2024-06-28","v":60,"dir":"up"},
{"date":"2024-07-01","v":60,"dir":"up"},{"date":"2024-07-04","v":80,"dir":"down"},{"date":"2024-07-07","v":50,"dir":"up"},{"date":"2024-07-10","v":70,"dir":"up"},{"date":"2024-07-13","v":100,"dir":"up"},{"date":"2024-07-16","v":330,"dir":"down"},{"date":"2024-07-19","v":80,"dir":"down"},{"date":"2024-07-22","v":60,"dir":"up"},{"date":"2024-07-25","v":90,"dir":"down"},{"date":"2024-07-28","v":50,"dir":"up"},
{"date":"2024-08-01","v":50,"dir":"up"},{"date":"2024-08-04","v":40,"dir":"down"},{"date":"2024-08-07","v":70,"dir":"up"},{"date":"2024-08-10","v":110,"dir":"down"},{"date":"2024-08-13","v":260,"dir":"up"},{"date":"2024-08-16","v":180,"dir":"up"},{"date":"2024-08-19","v":120,"dir":"down"},{"date":"2024-08-22","v":120,"dir":"up"},{"date":"2024-08-25","v":40,"dir":"down"},{"date":"2024-08-28","v":50,"dir":"down"},
{"date":"2024-09-01","v":60,"dir":"down"},{"date":"2024-09-04","v":80,"dir":"up"}
],
"dots": [
{"date":"2022-02-25","p":0.870},{"date":"2022-04-19","p":0.929},{"date":"2022-10-13","p":0.540},{"date":"2022-12-23","p":0.491},{"date":"2023-03-22","p":0.710},{"date":"2023-11-04","p":0.484},{"date":"2024-01-14","p":0.530}
],
"boxes": [
{"d1":"2022-04-09","d2":"2023-02-17","v1":1.059,"v2":0.976,"tx":"2022-09-13","ty":1.042,"label":"Completed Homestake Ridge asset sale to\nDolly Varden for C$5M in cash and 76.5M\ncommon shares of Dolly Varden"},
{"d1":"2022-06-09","d2":"2022-11-08","v1":0.960,"v2":0.897,"tx":"2022-08-24","ty":0.9394,"label":"Completed C$11M\nprivate placement"},
{"d1":"2022-06-18","d2":"2022-12-11","v1":0.879,"v2":0.817,"tx":"2022-09-14","ty":0.8589,"label":"Drilled 8.05 g/t Gold\nover 13.5m at Percival"},
{"d1":"2022-06-25","d2":"2022-12-18","v1":0.8006,"v2":0.716,"tx":"2022-09-21","ty":0.7817,"label":"Raised C$6.8M\nthrough sale of Dolly\nVarden shares"},
{"d1":"2023-03-03","d2":"2023-07-24","v1":0.980,"v2":0.916,"tx":"2023-05-13","ty":0.9591,"label":"Closed $C8.75M\nfinancing"},
{"d1":"2023-04-28","d2":"2023-10-21","v1":0.8786,"v2":0.7924,"tx":"2023-07-25","ty":0.8581,"label":"Drilled 279 g/t Gold\nover 1.5m at Percival\nMain Target"},
{"d1":"2023-10-03","d2":"2024-03-26","v1":0.982,"v2":0.898,"tx":"2023-12-29","ty":0.9632,"label":"Drilled 31.77 g/t Gold\nover 3.5m at Eau\nClaire Hinge Target"}
],
"links": [
{"d1":"2022-02-25","d2":"2022-04-09","v1":1.0223,"v2":1.0223},
{"d1":"2022-02-25","d2":"2022-02-25","v1":1.0223,"v2":0.870},
{"d1":"2022-04-19","d2":"2022-06-09","v1":0.929,"v2":0.929},
{"d1":"2022-12-11","d2":"2022-12-23","v1":0.848,"v2":0.848},
{"d1":"2022-12-23","d2":"2022-12-23","v1":0.848,"v2":0.491},
{"d1":"2022-10-13","d2":"2022-10-13","v1":0.716,"v2":0.540},
{"d1":"2023-03-22","d2":"2023-03-22","v1":0.916,"v2":0.710},
{"d1":"2023-10-21","d2":"2023-11-04","v1":0.835,"v2":0.835},
{"d1":"2023-11-04","d2":"2023-11-04","v1":0.835,"v2":0.484},
{"d1":"2024-01-14","d2":"2024-01-14","v1":0.898,"v2":0.530},
{"d1":"2024-07-08","d2":"2024-07-08","v1":0.9936,"v2":0.968},
{"d1":"2024-07-08","d2":"2024-07-18","v1":0.968,"v2":0.968},
{"d1":"2024-07-02","d2":"2024-07-02","v1":0.7432,"v2":0.7817},
{"d1":"2024-07-04","d2":"2024-07-04","v1":0.6372,"v2":0.6003},
{"d1":"2024-07-04","d2":"2024-07-13","v1":0.6003,"v2":0.6003}
],
"badges": [
{"label":"GOLD","d1":"2024-06-08","d2":"2024-08-06","v1":1.0174,"v2":0.9936,"tx":"2024-07-07","ty":1.0055},
{"label":"GDXJ","d1":"2024-06-01","d2":"2024-07-31","v1":0.7432,"v2":0.7194,"tx":"2024-06-30","ty":0.7313},
{"label":"FURY","d1":"2024-06-04","d2":"2024-08-02","v1":0.6611,"v2":0.6372,"tx":"2024-07-03","ty":0.6492}
]
},
"layer": [
{
"data": {"name": "vol"},
"mark": {"type": "bar", "size": 4},
"encoding": {
"x": {"field": "date", "type": "temporal", "title": null,
"scale": {"type": "utc", "nice": false, "domain": [{"year":2022,"month":2,"date":18,"utc":true},{"year":2024,"month":9,"date":5,"utc":true}]},
"axis": {"title": null, "values": [{"year":2022,"month":2,"date":18,"utc":true},{"year":2022,"month":4,"date":1,"utc":true},{"year":2022,"month":6,"date":1,"utc":true},{"year":2022,"month":8,"date":1,"utc":true},{"year":2022,"month":10,"date":1,"utc":true},{"year":2023,"month":1,"date":1,"utc":true},{"year":2023,"month":4,"date":1,"utc":true},{"year":2023,"month":6,"date":1,"utc":true},{"year":2023,"month":8,"date":1,"utc":true},{"year":2023,"month":10,"date":1,"utc":true},{"year":2024,"month":1,"date":1,"utc":true},{"year":2024,"month":3,"date":1,"utc":true},{"year":2024,"month":5,"date":1,"utc":true},{"year":2024,"month":7,"date":1,"utc":true},{"year":2024,"month":9,"date":1,"utc":true}],
"labelExpr": "utcmonth(datum.value)==0 || utcmonth(datum.value)==1 ? utcFormat(datum.value,'%Y') : utcFormat(datum.value,'%b')",
"grid": true, "gridColor": "#ececec", "gridWidth": 1, "ticks": false,
"domain": true, "domainColor": "#c4c4c4", "domainWidth": 2,
"labelFontSize": 24, "labelColor": "#3a3a3a", "labelFontWeight": 600, "labelPadding": 8,
"labelFlush": false, "labelOverlap": false,
"labelOffset": {"condition": {"test": "utcmonth(datum.value)==1", "value": 12}, "value": 0}}},
"y": {"field": "v", "type": "quantitative", "scale": {"domain": [0, 4000], "nice": false}, "axis": null},
"color": {"field": "dir", "type": "nominal", "scale": {"domain": ["up", "down"], "range": ["#4b7f3a", "#a5321f"]}, "legend": null}
}
},
{
"data": {"name": "gdxj"},
"mark": {"type": "line", "color": "#c6c6c6", "strokeWidth": 2.2, "strokeJoin": "round"},
"encoding": {
"x": {"field": "date", "type": "temporal", "title": null, "scale": {"type": "utc", "nice": false, "domain": [{"year":2022,"month":2,"date":18,"utc":true},{"year":2024,"month":9,"date":5,"utc":true}]}},
"y": {"field": "p", "type": "quantitative", "scale": {"domain": [23.63, 55.08], "nice": false, "zero": false},
"axis": {"orient": "right", "values": [24,26,28,30,34,36,40,42,46,48,50,52], "grid": false, "ticks": false, "domain": true, "domainColor": "#cfcfcf", "domainWidth": 1.5, "labelFontSize": 22, "labelColor": "#c2c2c2", "labelFontWeight": 500, "labelPadding": 8, "labelOverlap": false, "labelFlush": false, "title": "USD", "titleAngle": 0, "titleAlign": "left", "titleBaseline": "middle", "titleX": 8, "titleY": 8, "titleFontSize": 22, "titleFontWeight": 500, "titleColor": "#444444"}}
}
},
{
"data": {"name": "gold"},
"mark": {"type": "line", "color": "#c29c33", "strokeWidth": 2.2, "strokeJoin": "round"},
"encoding": {
"x": {"field": "date", "type": "temporal", "title": null, "scale": {"type": "utc", "nice": false, "domain": [{"year":2022,"month":2,"date":18,"utc":true},{"year":2024,"month":9,"date":5,"utc":true}]}},
"y": {"field": "p", "type": "quantitative", "scale": {"domain": [1462, 2635], "nice": false, "zero": false},
"axis": {"orient": "right", "values": [1600,1800,2000,2200,2400], "format": ",d", "grid": false, "ticks": false, "domain": false, "labelFontSize": 22, "labelColor": "#b8952e", "labelFontWeight": 500, "labelPadding": 8, "labelOverlap": false, "labelFlush": false, "title": null}}
}
},
{
"layer": [
{
"data": {"name": "fury"},
"mark": {"type": "line", "color": "#0f63a6", "strokeWidth": 2.4, "strokeJoin": "round"},
"encoding": {
"x": {"field": "date", "type": "temporal", "title": null, "scale": {"type": "utc", "nice": false, "domain": [{"year":2022,"month":2,"date":18,"utc":true},{"year":2024,"month":9,"date":5,"utc":true}]}},
"y": {"field": "p", "type": "quantitative", "title": "CAD", "scale": {"domain": [0.377, 1.066], "nice": false, "zero": false},
"axis": {"orient": "left", "values": [0.40,0.45,0.50,0.55,0.60,0.65,0.70,0.75,0.80,0.85,0.90,0.95,1.00,1.05],
"labelExpr": "abs(datum.value*10 - round(datum.value*10)) < 0.01 ? format(datum.value, '.2f') : ''",
"grid": true, "gridColor": "#ececec", "gridWidth": 1, "ticks": false, "domain": true, "domainColor": "#cfcfcf", "domainWidth": 1.5,
"labelFontSize": 23, "labelColor": "#1f68a8", "labelFontWeight": 500, "labelPadding": 7, "labelOverlap": false, "labelFlush": false,
"title": "CAD", "titleAngle": 0, "titleAlign": "right", "titleBaseline": "middle", "titleX": -8, "titleY": 8, "titleFontSize": 22, "titleFontWeight": 500, "titleColor": "#444444"}}
}
},
{
"data": {"name": "links"},
"mark": {"type": "rule", "color": "#8c8c8c", "strokeWidth": 1.3},
"encoding": {
"x": {"field": "d1", "type": "temporal", "title": null, "scale": {"type": "utc", "nice": false, "domain": [{"year":2022,"month":2,"date":18,"utc":true},{"year":2024,"month":9,"date":5,"utc":true}]}},
"x2": {"field": "d2"},
"y": {"field": "v1", "type": "quantitative", "scale": {"domain": [0.377, 1.066], "nice": false, "zero": false}},
"y2": {"field": "v2"}
}
},
{
"data": {"name": "dots"},
"mark": {"type": "point", "filled": true, "size": 200, "fill": "#f5c11c", "stroke": "#cfa017", "strokeWidth": 1.3, "opacity": 1},
"encoding": {
"x": {"field": "date", "type": "temporal", "title": null, "scale": {"type": "utc", "nice": false, "domain": [{"year":2022,"month":2,"date":18,"utc":true},{"year":2024,"month":9,"date":5,"utc":true}]}},
"y": {"field": "p", "type": "quantitative", "scale": {"domain": [0.377, 1.066], "nice": false, "zero": false}}
}
},
{
"data": {"name": "boxes"},
"mark": {"type": "rect", "fill": "white", "stroke": "#8a8a8a", "strokeWidth": 1.5},
"encoding": {
"x": {"field": "d1", "type": "temporal", "title": null, "scale": {"type": "utc", "nice": false, "domain": [{"year":2022,"month":2,"date":18,"utc":true},{"year":2024,"month":9,"date":5,"utc":true}]}},
"x2": {"field": "d2"},
"y": {"field": "v1", "type": "quantitative", "scale": {"domain": [0.377, 1.066], "nice": false, "zero": false}},
"y2": {"field": "v2"}
}
},
{
"data": {"name": "boxes"},
"mark": {"type": "text", "fontSize": 27, "lineBreak": "\n", "lineHeight": 32.5, "align": "center", "baseline": "middle", "color": "#222222"},
"encoding": {
"x": {"field": "tx", "type": "temporal", "title": null, "scale": {"type": "utc", "nice": false, "domain": [{"year":2022,"month":2,"date":18,"utc":true},{"year":2024,"month":9,"date":5,"utc":true}]}},
"y": {"field": "ty", "type": "quantitative", "scale": {"domain": [0.377, 1.066], "nice": false, "zero": false}},
"text": {"field": "label"}
}
},
{
"data": {"name": "badges"},
"mark": {"type": "rect", "cornerRadius": 6},
"encoding": {
"x": {"field": "d1", "type": "temporal", "title": null, "scale": {"type": "utc", "nice": false, "domain": [{"year":2022,"month":2,"date":18,"utc":true},{"year":2024,"month":9,"date":5,"utc":true}]}},
"x2": {"field": "d2"},
"y": {"field": "v1", "type": "quantitative", "scale": {"domain": [0.377, 1.066], "nice": false, "zero": false}},
"y2": {"field": "v2"},
"fill": {"condition": [{"test": "datum.label==='GOLD'", "value": "#b8952f"}, {"test": "datum.label==='GDXJ'", "value": "#c2c3c5"}], "value": "#0c5fa1"}
}
},
{
"data": {"name": "badges"},
"mark": {"type": "text", "fontSize": 26, "fontWeight": "bold", "align": "center", "baseline": "middle", "dy": 1},
"encoding": {
"x": {"field": "tx", "type": "temporal", "title": null, "scale": {"type": "utc", "nice": false, "domain": [{"year":2022,"month":2,"date":18,"utc":true},{"year":2024,"month":9,"date":5,"utc":true}]}},
"y": {"field": "ty", "type": "quantitative", "scale": {"domain": [0.377, 1.066], "nice": false, "zero": false}},
"text": {"field": "label"},
"color": {"condition": {"test": "datum.label==='FURY'", "value": "#ffffff"}, "value": "#111111"}
}
}
]
}
],
"resolve": {"scale": {"y": "independent"}}
}
